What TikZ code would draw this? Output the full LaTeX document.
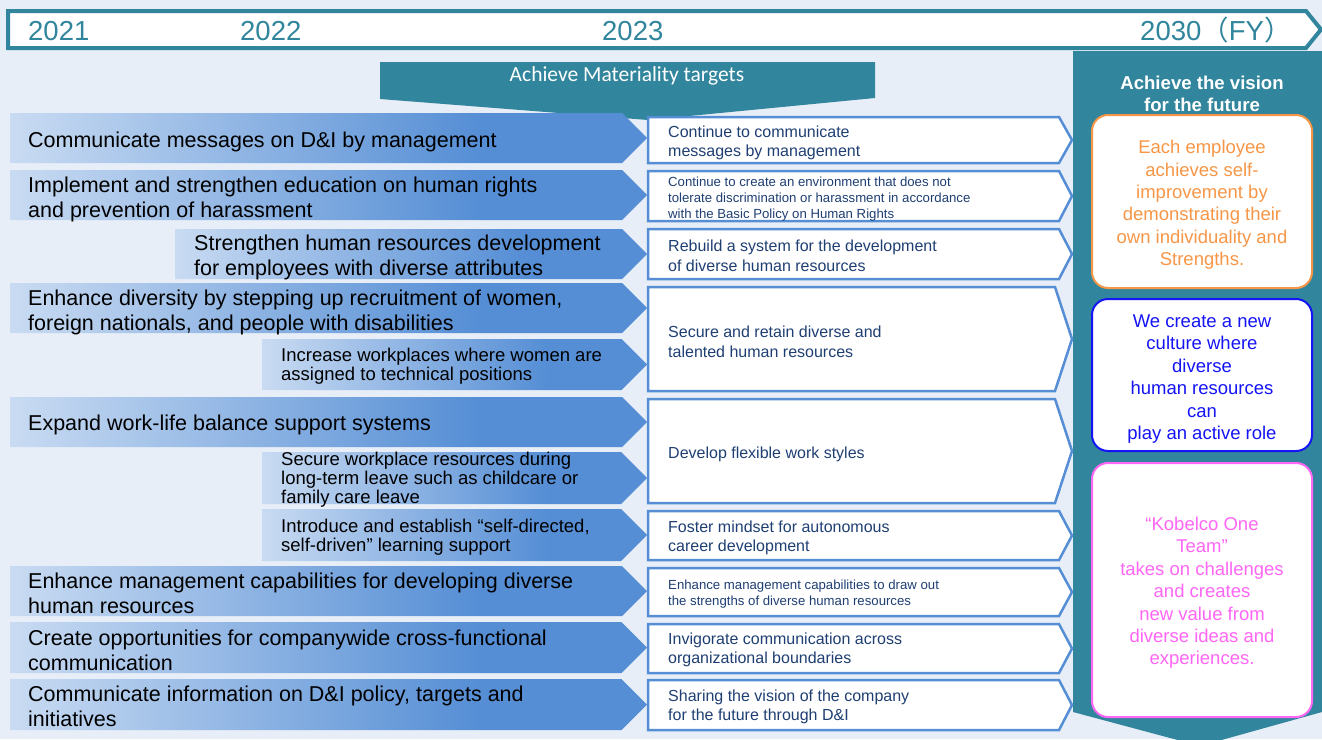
\documentclass[tikz,border=0pt]{standalone}
\usepackage{fontspec}
\setmainfont{Liberation Sans}
\newfontfamily\calfont{Carlito}
\newfontfamily\cjkfont{Noto Sans CJK JP}
\definecolor{bgc}{HTML}{E7EEF7}
\definecolor{tealc}{HTML}{31859C}
\definecolor{lA}{HTML}{C9DBF2}
\definecolor{lB}{HTML}{558ED5}
\definecolor{rb}{HTML}{558ED5}
\definecolor{rtc}{HTML}{1F3F73}
\definecolor{vor}{HTML}{F79646}
\definecolor{vbl}{HTML}{1414F5}
\definecolor{vpk}{HTML}{FF66F5}
\pgfdeclarehorizontalshading{lshade}{100bp}{color(0bp)=(lA); color(25bp)=(lA); color(62bp)=(lB); color(100bp)=(lB)}
\tikzset{
  larr/.style={shading=lshade},
  rarr/.style={fill=white, draw=rb, line width=2.5pt, line join=miter},
  ltxt/.style={anchor=west, align=left, inner sep=0pt, text=black, font=\fontsize{21.5}{25}\selectfont},
  ltxts/.style={ltxt, font=\fontsize{18.5}{19}\selectfont},
  rtxt/.style={anchor=west, align=left, inner sep=0pt, text=rtc, font=\fontsize{16}{19.5}\selectfont},
  rtxts/.style={rtxt, font=\fontsize{13.2}{16}\selectfont},
  vbox/.style={rounded corners=16pt, fill=white, line width=2pt},
  vtxt/.style={align=center, inner sep=0pt, font=\fontsize{18.5}{22.4}\selectfont},
  yr/.style={anchor=base west, inner sep=0pt, text=tealc, font=\fontsize{27.5}{30}\selectfont}
}
\newcommand\LArrow[3]{%
  \pgfmathsetmacro\lamid{(#2+#3)/2}%
  \pgfmathsetmacro\laend{647-(#3-#2)/2}%
  \path[larr] (#1,#2) -- (\laend,#2) -- (647,\lamid) -- (\laend,#3) -- (#1,#3) -- cycle;}
\newcommand\RArrow[3]{%
  \pgfmathsetmacro\ramid{(#1+#2)/2}%
  \pgfmathsetmacro\raend{1072-#3}%
  \path[rarr] (648,#1) -- (\raend,#1) -- (1072,\ramid) -- (\raend,#2) -- (648,#2) -- cycle;}
\begin{document}
\begin{tikzpicture}[x=1pt,y=-1pt]
\useasboundingbox (0,0) rectangle (1322,739);
\clip (0,0) rectangle (1322,739);
\fill[bgc] (0,0) rectangle (1322,739);
% header
\path[fill=white, draw=tealc, line width=4pt] (8,11) -- (1306,11) -- (1321,29.5) -- (1306,48) -- (8,48) -- cycle;
\node[yr] (y21) at (28,40) {2021};
\node[yr] (y22) at (240,40) {2022};
\node[yr] (y23) at (602,40) {2023};
\node[yr] (y30) at (1140,40) {2030{\cjkfont（}FY{\cjkfont）}};
% vision panel
\fill[tealc] (1073,51) -- (1322,51) -- (1322,712) -- (1200,746) -- (1073,712) -- cycle;
\node[align=center, inner sep=0pt, text=white, font=\bfseries\fontsize{18.6}{22}\selectfont, anchor=base] (vt) at (1202,111) {Achieve the vision\\for the future};
% banner
\fill[tealc] (380,62) -- (875,62) -- (875,98) -- (648,120) -- (380,99) -- cycle;
\node[inner sep=0pt, text=white, font=\calfont\fontsize{21.5}{24}\selectfont, anchor=base] (ban) at (627,81) {Achieve Materiality targets};
% left arrows
\LArrow{10}{113}{163}
\LArrow{10}{170}{220}
\LArrow{175}{229}{279}
\LArrow{10}{283}{333}
\LArrow{262}{339}{390}
\LArrow{10}{397}{447}
\LArrow{262}{452}{504}
\LArrow{262}{509}{561}
\LArrow{10}{566}{616}
\LArrow{10}{622}{673}
\LArrow{10}{679}{730}
\node[ltxt] (l1) at (28,142) {Communicate messages on D\&I by management};
\node[ltxt] (l2) at (28,199) {Implement and strengthen education on human rights\\and prevention of harassment};
\node[ltxt] (l3) at (194,257) {Strengthen human resources development\\for employees with diverse attributes};
\node[ltxt] (l4) at (28,312) {Enhance diversity by stepping up recruitment of women,\\foreign nationals, and people with disabilities};
\node[ltxts] (l5) at (281,366) {Increase workplaces where women are\\assigned to technical positions};
\node[ltxt] (l6) at (28,425) {Expand work-life balance support systems};
\node[ltxts] (l7) at (281,480) {Secure workplace resources during\\long-term leave such as childcare or\\family care leave};
\node[ltxts] (l8) at (281,537) {Introduce and establish “self-directed,\\self-driven” learning support};
\node[ltxt] (l9) at (28,593) {Enhance management capabilities for developing diverse\\human resources};
\node[ltxt] (l10) at (28,650) {Create opportunities for companywide cross-functional\\communication};
\node[ltxt] (l11) at (28,706) {Communicate information on D\&I policy, targets and\\initiatives};
% right arrows
\RArrow{117}{163}{13}
\RArrow{171}{221}{13}
\RArrow{229}{279}{13}
\RArrow{287}{391}{17}
\RArrow{399}{503}{17}
\RArrow{511}{560}{13}
\RArrow{568}{616}{13}
\RArrow{624}{673}{13}
\RArrow{680}{730}{13}
\node[rtxt] (r1) at (668,143) {Continue to communicate\\messages by management};
\node[rtxts] (r2) at (668,199) {Continue to create an environment that does not\\tolerate discrimination or harassment in accordance\\with the Basic Policy on Human Rights};
\node[rtxt] (r3) at (668,256) {Rebuild a system for the development\\of diverse human resources};
\node[rtxt] (r4) at (668,342) {Secure and retain diverse and\\talented human resources};
\node[rtxt] (r5) at (668,454) {Develop flexible work styles};
\node[rtxt] (r6) at (668,538) {Foster mindset for autonomous\\career development};
\node[rtxts] (r7) at (668,594) {Enhance management capabilities to draw out\\the strengths of diverse human resources};
\node[rtxt] (r8) at (668,650) {Invigorate communication across\\organizational boundaries};
\node[rtxt] (r9) at (668,707) {Sharing the vision of the company\\for the future through D\&I};
% vision boxes
\path[vbox, draw=vor] (1092,115) rectangle (1312,288);
\path[vbox, draw=vbl] (1092,299) rectangle (1312,451);
\path[vbox, draw=vpk] (1092,463) rectangle (1312,717);
\node[vtxt, text=vor] (v1) at (1202,205) {Each employee\\achieves self-\\improvement by\\demonstrating their\\own individuality and\\Strengths.};
\node[vtxt, text=vbl] (v2) at (1202,379) {We create a new\\culture where\\diverse\\human resources\\can\\play an active role};
\node[vtxt, text=vpk] (v3) at (1202,593) {“Kobelco One\\Team”\\takes on challenges\\and creates\\new value from\\diverse ideas and\\experiences.};
\end{tikzpicture}
\end{document}
